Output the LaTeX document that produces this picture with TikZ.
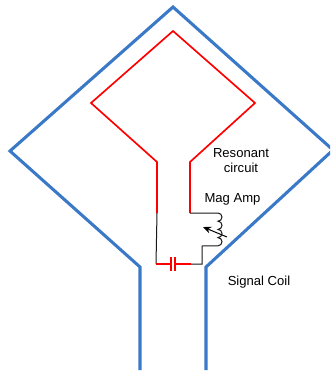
\documentclass[tikz,border=0pt]{standalone}
\usepackage{fontspec}
\setmainfont{Liberation Sans}
\usetikzlibrary{arrows.meta}
\definecolor{coilblue}{RGB}{58,120,200}
\tikzset{
  signalline/.style={line width=2.3pt,coilblue,line join=miter},
  redline/.style={line width=1.25pt,red},
  blackline/.style={line width=0.75pt,black!90},
  lbl/.style={font=\fontsize{9.8pt}{11.3pt}\selectfont,align=center,inner sep=0pt}
}
\begin{document}
\begin{tikzpicture}[x=0.75pt,y=-0.75pt]
            \useasboundingbox (0,0) rectangle (330,371);
            \clip (0,0) rectangle (330,371);
            \def\mypath{(206,370) -- (206,267) -- (333,150) -- (173,7) -- (10,151) -- (140,267) -- (140,370)}
            \draw [signalline]\mypath;
            \draw [redline](157,213) -- (157,162) -- (91,103) -- (173,31) -- (255,103) -- (190,162) -- (190,213);
            % the coil
            \draw [blackline](190,213) -- (218,213)
              \foreach \i in {1,2,3,4} { arc [start angle=-90,end angle=90,x radius=4,y radius=4.1] }
              -- (202,246) -- (202,264) -- (191,264);
            \draw [blackline](157,213) -- (156,264);
            \draw [-{Stealth[length=6pt,width=5pt]},blackline,black](227,237) -- (203,227);
            % the capacitor
            \draw [redline](156,264) -- (171,264);
            \draw [redline](175,264) -- (191,264);
            \draw [redline](171,257) -- (171,271);
            \draw [redline](175,257) -- (175,271);
            \node [lbl] (resonant) at (241,161) {Resonant\\circuit};
            \node [lbl] (magamp) at (232.5,199) {Mag Amp};
            \node [lbl] (signalcoil) at (259,282) {Signal Coil};
        \end{tikzpicture}
\end{document}
